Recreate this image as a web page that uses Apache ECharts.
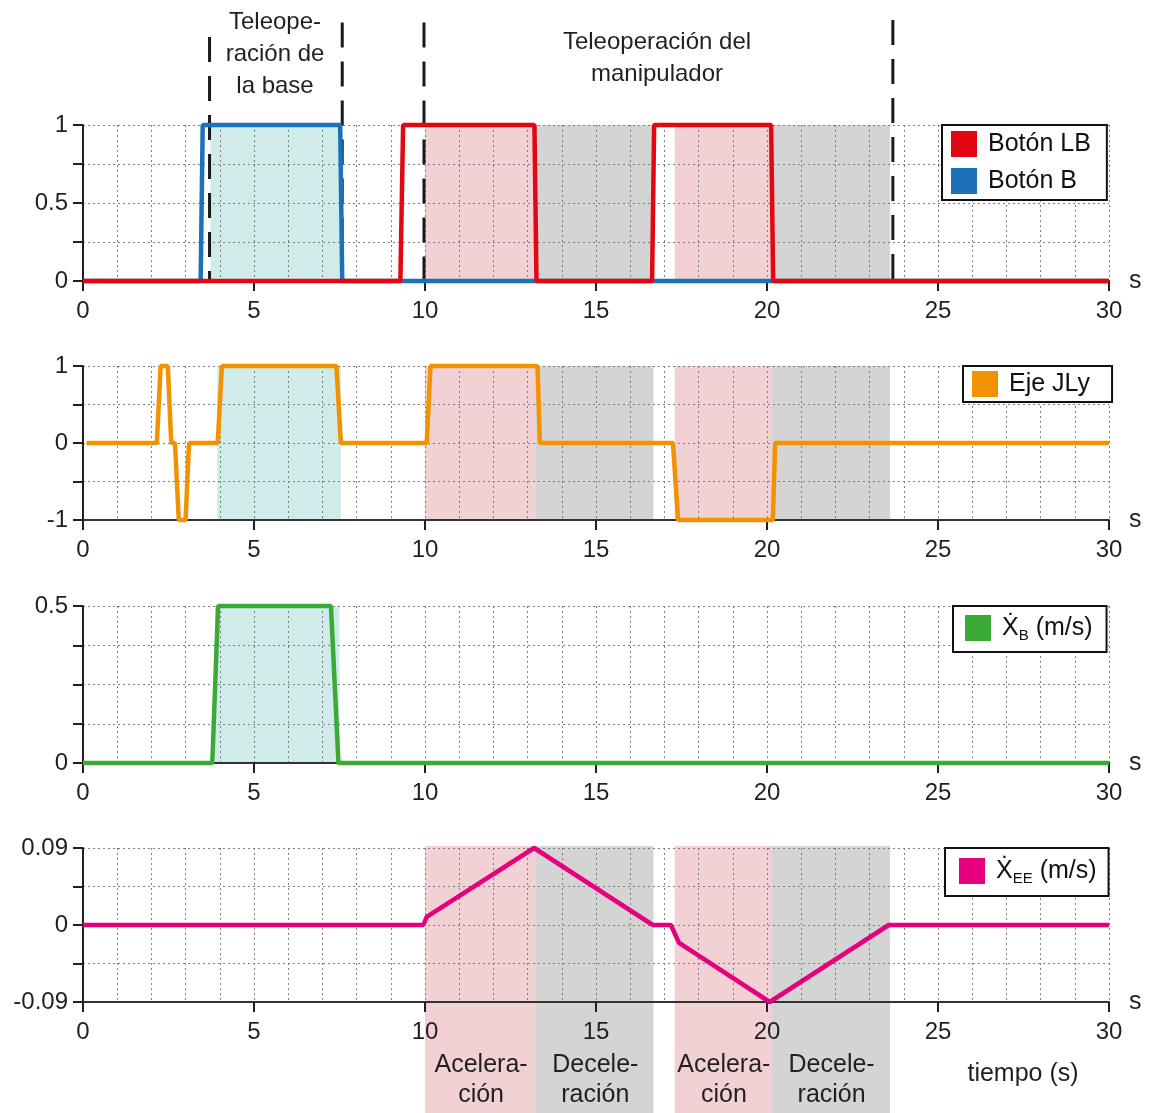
<!DOCTYPE html>
<html>
<head>
<meta charset="utf-8">
<script src="https://cdn.jsdelivr.net/npm/echarts@6/dist/echarts.min.js"></script>
<style>
  html, body { margin: 0; padding: 0; background: #fff; }
  #chart { width: 1155px; height: 1113px; }
</style>
</head>
<body>
<div id="chart"></div>
<script>
// signals, [t (s), value]
const botonLB = [[0, 0], [9.28, 0], [9.36, 1], [13.2, 1], [13.26, 0], [16.64, 0], [16.7, 1], [20.12, 1], [20.18, 0], [30, 0]]
const botonB = [[0, 0], [3.44, 0], [3.5, 1], [7.52, 1], [7.58, 0], [30, 0]]
const ejeJLy = [[0.1, 0], [2.16, 0], [2.27, 1], [2.48, 1], [2.58, 0], [2.69, 0], [2.8, -1], [3.0, -1], [3.1, 0],
  [3.94, 0], [4.06, 1], [7.41, 1], [7.54, 0], [10.05, 0], [10.16, 1], [13.29, 1], [13.36, 0],
  [17.25, 0], [17.4, -1], [20.17, -1], [20.24, 0], [30, 0]]
const velBase = [[0, 0], [3.78, 0], [3.95, 0.5], [7.25, 0.5], [7.47, 0], [30, 0]]
const velEE = [[0, 0], [9.95, 0], [10.05, 0.0096], [13.19, 0.09], [16.66, 0], [17.19, 0], [17.43, -0.021],
  [20.08, -0.09], [23.56, 0], [30, 0]]

// shaded phases [start, end]
const baseSpan1 = [3.73, 7.52]
const baseSpan2 = [3.92, 7.54]
const baseSpan3 = [3.86, 7.5]
const accelSpans = [[10.0, 13.22], [17.3, 20.12]]
const decelSpans = [[13.22, 16.68], [20.12, 23.6]]
const accelText = 'Acelera-\nción'
const decelText = 'Decele-\nración'

// dashed phase limits
const dashX = [3.7, 7.58, 9.97, 23.68]
const dashTop = [0.935, 0.99, 0.99, 1.0]

const xTicks = { min: 0, max: 30, interval: 5 }

const FONT = '"Liberation Sans", Arial, "DejaVu Sans", sans-serif'
const DARK = '#231f20'
const GRIDC = '#7d7d7d'
const fills = { base: '#cfeceb', accel: '#f2d1d4', decel: '#d4d4d4' }

const chart = echarts.init(document.getElementById('chart'))

const panels = [
  { top: 125, height: 156 },
  { top: 366, height: 154 },
  { top: 606, height: 157 },
  { top: 848, height: 154 }
]

function visXAxis(i) {
  return {
    type: 'value', gridIndex: i, min: xTicks.min, max: xTicks.max, interval: xTicks.interval,
    name: 's', nameLocation: 'end', nameGap: 20,
    nameTextStyle: { fontSize: 25, color: DARK, fontFamily: FONT },
    axisLine: { onZero: false, lineStyle: { color: '#333', width: 2 } },
    axisTick: { length: 10, lineStyle: { color: DARK, width: 2 } },
    minorTick: { show: false, splitNumber: 5 },
    axisLabel: { fontSize: 24, color: DARK, fontFamily: FONT, margin: 18 },
    splitLine: { show: true, lineStyle: { color: GRIDC, width: 1, type: [2, 3] } },
    minorSplitLine: { show: true, lineStyle: { color: GRIDC, width: 1, type: [2, 3] } }
  }
}

function visYAxis(i, min, max, interval, minorSplit, fmt) {
  return {
    type: 'value', gridIndex: i, min: min, max: max, interval: interval,
    axisLine: { show: true, onZero: false, lineStyle: { color: DARK, width: 2 } },
    axisTick: { show: true, length: 10, lineStyle: { color: DARK, width: 2 } },
    minorTick: { show: true, splitNumber: minorSplit, length: 10, lineStyle: { color: DARK, width: 2 } },
    axisLabel: { fontSize: 24, color: DARK, fontFamily: FONT, margin: 15, formatter: fmt },
    splitLine: { show: true, lineStyle: { color: GRIDC, width: 1, type: [2, 3] } },
    minorSplitLine: { show: true, lineStyle: { color: GRIDC, width: 1, type: [2, 3] } }
  }
}

function hiddenAxis(i, isX) {
  return isX
    ? { type: 'value', gridIndex: i, min: 0, max: 30, show: false }
    : { type: 'value', gridIndex: i, min: 0, max: 1, show: false }
}

// rectangles [x0, x1, y0, y1, kind, label]
function spanData(base, y0, y1, withBase) {
  const out = []
  if (withBase) out.push([base[0], base[1], y0, y1, 'base', ''])
  accelSpans.forEach(s => out.push([s[0], s[1], y0, y1, 'accel', '']))
  decelSpans.forEach(s => out.push([s[0], s[1], y0, y1, 'decel', '']))
  return out
}

function renderSpan(params, api) {
  const item = this[params.dataIndex]
  const p0 = api.coord([item[0], item[2]])
  const p1 = api.coord([item[1], item[3]])
  const children = [{
    type: 'rect',
    shape: { x: p0[0], y: p1[1], width: p1[0] - p0[0], height: p0[1] - p1[1] },
    style: { fill: fills[item[4]] }
  }]
  if (item[5]) {
    children.push({
      type: 'text',
      style: {
        text: item[5], x: (p0[0] + p1[0]) / 2 + 1, y: params.coordSys.y + params.coordSys.height - 63,
        textAlign: 'center', textVerticalAlign: 'top', fill: DARK,
        font: '25px ' + FONT, lineHeight: 30
      }
    })
  }
  return { type: 'group', children: children }
}

function spanSeries(i, data) {
  return {
    type: 'custom', xAxisIndex: i, yAxisIndex: i, z: -1, silent: true,
    renderItem: renderSpan.bind(data), data: data, clip: false
  }
}

const p4Spans = []
accelSpans.forEach(s => p4Spans.push([s[0], s[1], 0, 1, 'accel', accelText]))
decelSpans.forEach(s => p4Spans.push([s[0], s[1], 0, 1, 'decel', decelText]))

function signal(name, i, data, color, z) {
  return {
    name: name, type: 'line', xAxisIndex: i, yAxisIndex: i, data: data,
    showSymbol: false, symbol: 'none', z: z, clip: false,
    lineStyle: { color: color, width: 4.5 }, itemStyle: { color: color }
  }
}

const dashSeries = dashX.map((x, k) => ({
  type: 'line', xAxisIndex: 5, yAxisIndex: 5, data: [[x, dashTop[k]], [x, 0]],
  showSymbol: false, symbol: 'none', z: 1, silent: true,
  lineStyle: { color: '#1a1a1a', width: 3, type: [25, 14] }
}))

function legendBox(names, left, top, pad) {
  return {
    data: names, left: left, top: top, orient: 'vertical', selectedMode: false,
    icon: 'rect', itemWidth: 26, itemHeight: 26, itemGap: 11,
    backgroundColor: '#fff', borderColor: '#111', borderWidth: 2, borderRadius: 0,
    padding: pad, itemStyle: { borderWidth: 0 },
    textStyle: {
      fontSize: 25, color: '#111', fontFamily: FONT, padding: [0, 0, 0, 6],
      rich: {
        x: { fontSize: 25, fontFamily: FONT, color: '#111', lineHeight: 30 },
        sub: { fontSize: 15, fontFamily: FONT, color: '#111', verticalAlign: 'bottom', lineHeight: 14 }
      }
    },
    formatter: function (name) {
      if (name === 'xb') return '{x|Ẋ}{sub|B}{x| (m/s)}'
      if (name === 'xee') return '{x|Ẋ}{sub|EE}{x| (m/s)}'
      return name
    }
  }
}

const option = {
  animation: false,
  backgroundColor: '#fff',
  grid: [
    { left: 83, right: 46, top: panels[0].top, height: panels[0].height },
    { left: 83, right: 46, top: panels[1].top, height: panels[1].height },
    { left: 83, right: 46, top: panels[2].top, height: panels[2].height },
    { left: 83, right: 46, top: panels[3].top, height: panels[3].height },
    { left: 83, right: 46, top: 846, bottom: 0 },
    { left: 83, right: 46, top: 20, height: 261 }
  ],
  xAxis: [visXAxis(0), visXAxis(1), visXAxis(2), visXAxis(3), hiddenAxis(4, true), hiddenAxis(5, true)],
  yAxis: [
    visYAxis(0, 0, 1, 0.5, 2),
    visYAxis(1, -1, 1, 1, 2),
    visYAxis(2, 0, 0.5, 0.5, 4),
    visYAxis(3, -0.09, 0.09, 0.09, 2, v => (Math.abs(v) < 1e-9 ? '0' : v.toFixed(2))),
    hiddenAxis(4, false),
    hiddenAxis(5, false)
  ],
  legend: [
    legendBox(['Botón LB', 'Botón B'], 942, 125, [6, 16, 6, 9]),
    legendBox(['Eje JLy'], 963, 366, [5, 22, 5, 9]),
    legendBox(['xb'], 953, 606, [9, 14, 9, 12]),
    legendBox(['xee'], 945, 848, [10, 12, 10, 14])
  ],
  series: [
    spanSeries(0, spanData(baseSpan1, 0, 1, true)),
    spanSeries(1, spanData(baseSpan2, -1, 1, true)),
    spanSeries(2, [[baseSpan3[0], baseSpan3[1], 0, 0.5, 'base', '']]),
    spanSeries(4, p4Spans),
    ...dashSeries,
    signal('Botón B', 0, botonB, '#1d71b8', 3),
    signal('Botón LB', 0, botonLB, '#e30613', 4),
    signal('Eje JLy', 1, ejeJLy, '#f39200', 3),
    signal('xb', 2, velBase, '#3aaa35', 3),
    signal('xee', 3, velEE, '#e6007e', 3)
  ],
  graphic: [
    {
      type: 'text', silent: true, z: 10,
      style: { text: 'Teleope-\nración de\nla base', x: 275, y: 6, textAlign: 'center', textVerticalAlign: 'top', font: '24px ' + FONT, fill: DARK, lineHeight: 32 }
    },
    {
      type: 'text', silent: true, z: 10,
      style: { text: 'Teleoperación del\nmanipulador', x: 657, y: 26, textAlign: 'center', textVerticalAlign: 'top', font: '24px ' + FONT, fill: DARK, lineHeight: 32 }
    },
    {
      type: 'text', silent: true, z: 10,
      style: { text: 'tiempo (s)', x: 1023, y: 1062, textAlign: 'center', textVerticalAlign: 'top', font: '25px ' + FONT, fill: DARK }
    }
  ]
}

chart.setOption(option)
window.addEventListener('resize', () => chart.resize())
</script>
</body>
</html>
